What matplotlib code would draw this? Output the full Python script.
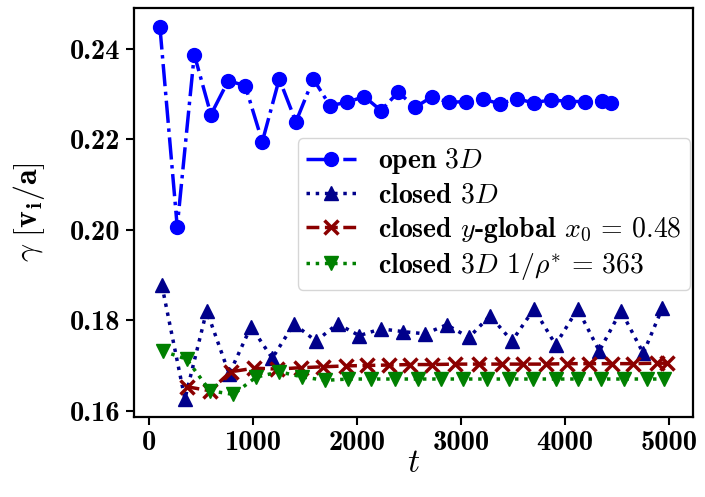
import matplotlib
matplotlib.use('Agg')
import matplotlib.pyplot as plt

plt.rcParams['font.family'] = ['cmb10', 'DejaVu Serif']
plt.rcParams['mathtext.fontset'] = 'cm'
plt.rcParams['axes.unicode_minus'] = False

# open 3D
t_open = [106, 272, 436, 596, 763, 926, 1090, 1253, 1413, 1580, 1740, 1901, 2070, 2231,
          2397, 2558, 2718, 2885, 3048, 3215, 3375, 3535, 3702, 3865, 4026, 4192, 4353, 4440]
g_open = [0.2448, 0.2007, 0.2388, 0.2255, 0.2330, 0.2319, 0.2195, 0.2334, 0.2239, 0.2334,
          0.2275, 0.2282, 0.2295, 0.2264, 0.2305, 0.2271, 0.2294, 0.2282, 0.2284, 0.2289,
          0.2279, 0.2290, 0.2281, 0.2288, 0.2284, 0.2284, 0.2286, 0.2281]

# closed 3D
t_closed = [125, 346, 555, 772, 981, 1186, 1394, 1606, 1814, 2022, 2231, 2439, 2654, 2862,
            3077, 3279, 3490, 3702, 3910, 4122, 4330, 4538, 4753, 4936]
g_closed = [0.1877, 0.1626, 0.1821, 0.1681, 0.1786, 0.1716, 0.1792, 0.1754, 0.1792, 0.1766,
            0.1781, 0.1775, 0.1770, 0.1790, 0.1762, 0.1810, 0.1754, 0.1825, 0.1746, 0.1825,
            0.1732, 0.1821, 0.1727, 0.1827]

# closed y-global x0 = 0.48
t_yglob = [362, 587, 785, 1013, 1234, 1458, 1670, 1894, 2099, 2311, 2510, 2718, 2942, 3176,
           3391, 3599, 3814, 4016, 4233, 4449, 4657, 4881, 4977]
g_yglob = [0.1653, 0.1644, 0.1686, 0.1694, 0.1692, 0.1695, 0.1697, 0.1699, 0.1700, 0.1701,
           0.1702, 0.1702, 0.1703, 0.1703, 0.1703, 0.1703, 0.1703, 0.1704, 0.1704, 0.1704,
           0.1704, 0.1705, 0.1705]

# closed 3D 1/rho* = 363
t_rho = [131, 362, 587, 811, 1029, 1253, 1468, 1692, 1917, 2135, 2365, 2590, 2805, 3022,
         3247, 3465, 3689, 3910, 4128, 4346, 4570, 4791, 4952]
g_rho = [0.1732, 0.1714, 0.1644, 0.1636, 0.1674, 0.1686, 0.1675, 0.1667, 0.1670, 0.1670,
         0.1670, 0.1670, 0.1670, 0.1670, 0.1670, 0.1670, 0.1670, 0.1670, 0.1670, 0.1670,
         0.1670, 0.1670, 0.1670]

fig = plt.figure(figsize=(7.05, 4.97), dpi=100)
ax = fig.add_axes([0.190, 0.161, 0.793, 0.823])

ax.plot(t_open, g_open, linestyle='-.', marker='o', color='#0000ff', lw=2.5, ms=10,
        label=r'open $\mathbf{3}D$')
ax.plot(t_closed, g_closed, linestyle=':', marker='^', color='#00008b', lw=2.5, ms=10,
        label=r'closed $\mathbf{3}D$')
ax.plot(t_yglob, g_yglob, linestyle='--', marker='x', color='#8b0000', lw=2.5, ms=10, mew=2.5,
        label=r'closed $y$-global $x_{\mathbf{0}}\,=\,\mathbf{0.48}$')
ax.plot(t_rho, g_rho, linestyle=':', marker='v', color='#008000', lw=2.5, ms=10,
        label=r'closed $\mathbf{3}D$ $\mathbf{1}/\rho^{*}\,=\,\mathbf{363}$')

ax.set_xlim(-144, 5231)
ax.set_ylim(0.1586, 0.2491)
ax.set_xticks([0, 1000, 2000, 3000, 4000, 5000])
ax.set_yticks([0.16, 0.18, 0.20, 0.22, 0.24])
ax.set_yticklabels(['0.16', '0.18', '0.20', '0.22', '0.24'])
ax.tick_params(labelsize=20.5, length=6, width=1.5)
for s in ax.spines.values():
    s.set_linewidth(1.6)

ax.set_xlabel(r'$t$', fontsize=24, labelpad=-5)
ax.set_ylabel(r'$\gamma\ [\mathbf{v_i/a}]$', fontsize=23, labelpad=17)

ax.legend(loc='upper right', bbox_to_anchor=(0.995, 0.682), borderaxespad=0,
          fontsize=20, handlelength=1.8, labelspacing=0.22, borderpad=0.3)

plt.savefig('out.png', dpi=100)
